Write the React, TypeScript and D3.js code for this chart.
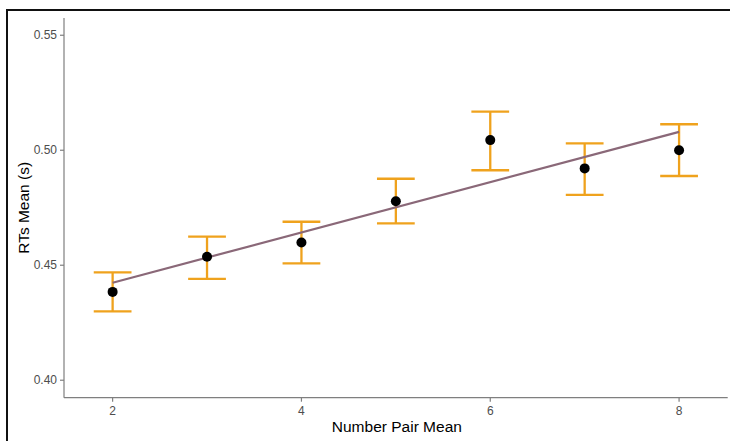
import React from 'react'
import * as d3 from 'd3'

// Number pair mean (x) vs RT mean with error bars
const pairMeans = [2, 3, 4, 5, 6, 7, 8]
const rtMeans = [0.4384, 0.4537, 0.4599, 0.4778, 0.5044, 0.4921, 0.5]
const rtLower = [0.4299, 0.4441, 0.4508, 0.4682, 0.4913, 0.4806, 0.4888]
const rtUpper = [0.4469, 0.4624, 0.4689, 0.4876, 0.5168, 0.503, 0.5113]
const xTicks = [2, 4, 6, 8]
const yTicks = [0.4, 0.45, 0.5, 0.55]

const W = 730
const H = 441
const margin = { top: 18, right: 2.3, bottom: 43.3, left: 64 }
const FONT = "'Liberation Sans', Arial, sans-serif"
const ORANGE = '#efa21d'
const AXIS = '#7f7f7f'

export default function App() {
    const innerW = W - margin.left - margin.right
    const innerH = H - margin.top - margin.bottom

    const x = d3.scaleLinear().domain([1.485, 8.515]).range([0, innerW])
    const y = d3.scaleLinear().domain([0.3924, 0.5575]).range([innerH, 0])

    // Linear fit through the means
    const mx = d3.mean(pairMeans) as number
    const my = d3.mean(rtMeans) as number
    const slope =
        d3.sum(pairMeans, (v, i) => (v - mx) * (rtMeans[i] - my)) /
        d3.sum(pairMeans, v => (v - mx) ** 2)
    const fit = (v: number) => my + slope * (v - mx)
    const xMin = d3.min(pairMeans) as number
    const xMax = d3.max(pairMeans) as number
    const fitLine = d3.line<number>().x(v => x(v)).y(v => y(fit(v)))([xMin, xMax]) || ''

    const capHalf = (x(0.2) - x(0))

    return (
        <svg
            width={W}
            height={H}
            style={{ position: 'absolute', left: 0, top: 0, background: '#fff' }}
        >
            {/* outer frame */}
            <line x1={7} x2={W} y1={10} y2={10} stroke="#111" strokeWidth={2} />
            <line x1={7} x2={7} y1={9} y2={H} stroke="#111" strokeWidth={2} />

            <g transform={`translate(${margin.left},${margin.top})`}>
                {/* axes */}
                <line x1={0} x2={0} y1={0} y2={innerH} stroke={AXIS} strokeWidth={1.2} />
                <line x1={0} x2={innerW} y1={innerH} y2={innerH} stroke={AXIS} strokeWidth={1.2} />

                {yTicks.map(t => (
                    <g key={t} transform={`translate(0,${y(t)})`}>
                        <line x1={-4} x2={0} stroke={AXIS} strokeWidth={1.2} />
                        <text
                            x={-7}
                            dy="0.35em"
                            textAnchor="end"
                            fill="#4d4d4d"
                            fontSize={12}
                            fontFamily={FONT}
                        >
                            {t.toFixed(2)}
                        </text>
                    </g>
                ))}

                {xTicks.map(t => (
                    <g key={t} transform={`translate(${x(t)},${innerH})`}>
                        <line y1={0} y2={4} stroke={AXIS} strokeWidth={1.2} />
                        <text
                            y={17}
                            textAnchor="middle"
                            fill="#4d4d4d"
                            fontSize={12}
                            fontFamily={FONT}
                        >
                            {t}
                        </text>
                    </g>
                ))}

                {/* error bars */}
                {pairMeans.map((v, i) => (
                    <g key={v} stroke={ORANGE} strokeWidth={2.3} fill="none">
                        <line x1={x(v)} x2={x(v)} y1={y(rtLower[i])} y2={y(rtUpper[i])} />
                        <line x1={x(v) - capHalf} x2={x(v) + capHalf} y1={y(rtUpper[i])} y2={y(rtUpper[i])} />
                        <line x1={x(v) - capHalf} x2={x(v) + capHalf} y1={y(rtLower[i])} y2={y(rtLower[i])} />
                    </g>
                ))}

                {/* fitted line */}
                <path d={fitLine} stroke="#8a6878" strokeWidth={2.2} fill="none" />

                {/* means */}
                {pairMeans.map((v, i) => (
                    <circle key={v} cx={x(v)} cy={y(rtMeans[i])} r={5} fill="#000" />
                ))}
            </g>

            <text
                x={margin.left + innerW / 2 + 1}
                y={432}
                textAnchor="middle"
                fontSize={15.5}
                fontFamily={FONT}
                fill="#000"
            >
                Number Pair Mean
            </text>
            <text
                transform={`translate(29,${margin.top + innerH / 2}) rotate(-90)`}
                textAnchor="middle"
                fontSize={15.5}
                fontFamily={FONT}
                fill="#000"
            >
                RTs Mean (s)
            </text>
        </svg>
    )
}
